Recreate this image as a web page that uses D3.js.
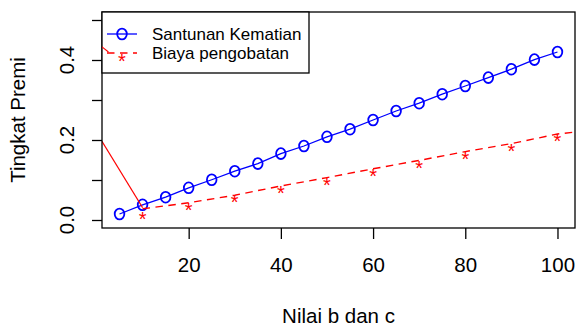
<!DOCTYPE html>
<html>
<head>
<meta charset="utf-8">
<script src="https://cdn.jsdelivr.net/npm/d3@7"></script>
<style>
  body { margin: 0; background: #fff; }
  svg { display: block; font-family: "Liberation Sans", Arial, sans-serif; }
</style>
</head>
<body>
<script>
// values
const kematianX = [5, 10, 15, 20, 25, 30, 35, 40, 45, 50, 55, 60, 65, 70, 75, 80, 85, 90, 95, 100];
const kematianY = [0.015, 0.038, 0.057, 0.0805, 0.1006, 0.122, 0.141, 0.166, 0.185, 0.208,
                   0.227, 0.250, 0.2725, 0.292, 0.3145, 0.335, 0.356, 0.377, 0.401, 0.420];

const obatX = [10, 20, 30, 40, 50, 60, 70, 80, 90, 100];
const obatPoints = [0.013, 0.036, 0.0553, 0.078, 0.099, 0.1215, 0.142, 0.164, 0.184, 0.208];
// dashed line runs a little above the stars and carries on past the right edge
const obatLineX = [10, 20, 30, 40, 50, 60, 70, 80, 90, 100, 110];
const obatLineY = [0.028, 0.043, 0.062, 0.085, 0.106, 0.128, 0.149, 0.171, 0.191, 0.215, 0.228];

// stray solid red segments coming in from the left edge
const strayA_X = [0, 10], strayA_Y = [0.219, 0.031];
const strayB_X = [0, 2.6], strayB_Y = [0.444, 0.42];

const xTicks = [20, 40, 60, 80, 100];
const yTicks = [0, 0.1, 0.2, 0.3, 0.4, 0.5];
const yLabels = [0, 0.2, 0.4];

const legendNames = ["Santunan Kematian", "Biaya pengobatan"];

const width = 576, height = 327;
const margin = {top: 12, right: 1, bottom: 99, left: 102};

const svg = d3.select("body").append("svg")
    .attr("width", width)
    .attr("height", height);

const x = d3.scaleLinear().domain([1.2, 103.8]).range([margin.left, width - margin.right]);
const y = d3.scaleLinear().domain([-0.02, 0.52]).range([height - margin.bottom, margin.top]);

svg.append("defs").append("clipPath").attr("id", "plotclip")
  .append("rect")
    .attr("x", margin.left).attr("y", margin.top)
    .attr("width", width - margin.left - margin.right)
    .attr("height", height - margin.top - margin.bottom);

const plot = svg.append("g").attr("clip-path", "url(#plotclip)");

const line = d3.line().x(d => x(d[0])).y(d => y(d[1]));

// blue series
plot.append("path")
    .attr("d", line(d3.zip(kematianX, kematianY)))
    .attr("fill", "none")
    .attr("stroke", "#0000ff")
    .attr("stroke-width", 1.3);

plot.selectAll("ellipse.k")
  .data(d3.zip(kematianX, kematianY))
  .join("ellipse")
    .attr("class", "k")
    .attr("cx", d => x(d[0]))
    .attr("cy", d => y(d[1]))
    .attr("rx", 4.8)
    .attr("ry", 5.4)
    .attr("fill", "none")
    .attr("stroke", "#0000ff")
    .attr("stroke-width", 1.8);

// red series
plot.append("path")
    .attr("d", line(d3.zip(obatLineX, obatLineY)))
    .attr("fill", "none")
    .attr("stroke", "#ff0000")
    .attr("stroke-width", 1.4)
    .attr("stroke-dasharray", "7.5,5.5");

// "*" glyph sits ~0.58em above its baseline, so push the baseline down to centre it
plot.selectAll("text.star")
  .data(d3.zip(obatX, obatPoints))
  .join("text")
    .attr("class", "star")
    .attr("x", d => x(d[0]))
    .attr("y", d => y(d[1]) + 11.5)
    .attr("text-anchor", "middle")
    .attr("font-size", 20)
    .attr("fill", "#ff0000")
    .text("*");

[[strayA_X, strayA_Y], [strayB_X, strayB_Y]].forEach(([sx, sy]) => {
  plot.append("path")
      .attr("d", line(d3.zip(sx, sy)))
      .attr("fill", "none")
      .attr("stroke", "#ff0000")
      .attr("stroke-width", 1.1);
});

// box
svg.append("rect")
    .attr("x", margin.left).attr("y", margin.top)
    .attr("width", width - margin.left - margin.right)
    .attr("height", height - margin.top - margin.bottom)
    .attr("fill", "none")
    .attr("stroke", "#000")
    .attr("stroke-width", 1.3);

// x axis
const xAxis = svg.append("g")
    .attr("transform", `translate(0,${height - margin.bottom})`)
    .call(d3.axisBottom(x).tickValues(xTicks).tickSize(11).tickPadding(18).tickFormat(d3.format("d")));
xAxis.select(".domain").remove();
xAxis.selectAll("line").attr("stroke-width", 1.3);
xAxis.selectAll("text")
    .attr("font-size", 20.5)
    .attr("font-family", "Liberation Sans, Arial, sans-serif")
    .attr("fill", "#000");

// y axis
const yAxis = svg.append("g")
    .attr("transform", `translate(${margin.left},0)`)
    .call(d3.axisLeft(y).tickValues(yTicks).tickSize(10).tickFormat(""));
yAxis.select(".domain").remove();
yAxis.selectAll("line").attr("stroke-width", 1.3);

svg.append("g").selectAll("text")
  .data(yLabels)
  .join("text")
    .attr("transform", d => `translate(74,${y(d)}) rotate(-90)`)
    .attr("text-anchor", "middle")
    .attr("font-size", 20.5)
    .text(d3.format(".1f"));

// titles
svg.append("text")
    .attr("x", (margin.left + width - margin.right) / 2)
    .attr("y", 323)
    .attr("text-anchor", "middle")
    .attr("font-size", 20.5)
    .text("Nilai b dan c");

svg.append("text")
    .attr("transform", `translate(25,${(margin.top + height - margin.bottom) / 2}) rotate(-90)`)
    .attr("text-anchor", "middle")
    .attr("font-size", 20.5)
    .text("Tingkat Premi");

// legend
const legend = svg.append("g");
legend.append("rect")
    .attr("x", margin.left).attr("y", margin.top)
    .attr("width", 207).attr("height", 61)
    .attr("fill", "#fff")
    .attr("stroke", "#000")
    .attr("stroke-width", 1.3);

const rowY = [34, 53];
legend.append("line")
    .attr("x1", 107).attr("x2", 137).attr("y1", rowY[0]).attr("y2", rowY[0])
    .attr("stroke", "#0000ff").attr("stroke-width", 1.3);
legend.append("ellipse")
    .attr("cx", 122).attr("cy", rowY[0]).attr("rx", 4.8).attr("ry", 5.4)
    .attr("fill", "none").attr("stroke", "#0000ff").attr("stroke-width", 1.8);
legend.append("line")
    .attr("x1", 107).attr("x2", 137).attr("y1", rowY[1]).attr("y2", rowY[1])
    .attr("stroke", "#ff0000").attr("stroke-width", 1.4)
    .attr("stroke-dasharray", "7.5,5.5");
legend.append("text")
    .attr("x", 122).attr("y", rowY[1] + 14.5)
    .attr("text-anchor", "middle")
    .attr("font-size", 20)
    .attr("fill", "#ff0000")
    .text("*");

legend.selectAll("text.name")
  .data(legendNames)
  .join("text")
    .attr("class", "name")
    .attr("x", 152)
    .attr("y", (d, i) => rowY[i])
    .attr("dy", "0.35em")
    .attr("font-size", 17)
    .text(d => d);

// the upper stray segment shows on top of the legend
svg.append("path")
    .attr("clip-path", "url(#plotclip)")
    .attr("d", line(d3.zip(strayB_X, strayB_Y)))
    .attr("fill", "none")
    .attr("stroke", "#ff0000")
    .attr("stroke-width", 1.1);
</script>
</body>
</html>
